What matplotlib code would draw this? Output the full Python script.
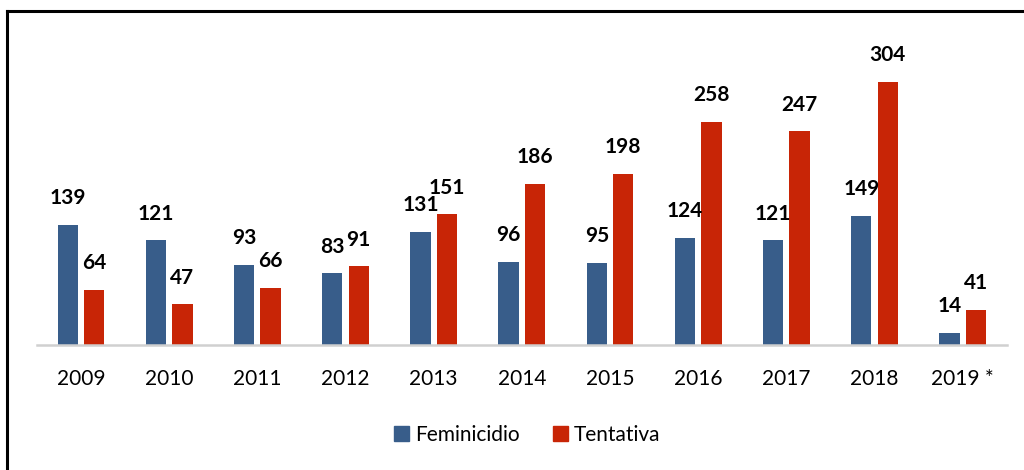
import numpy as np
import matplotlib
matplotlib.use("Agg")
import matplotlib.pyplot as plt
from matplotlib.lines import Line2D
from matplotlib.patches import Patch

years = ["2009", "2010", "2011", "2012", "2013", "2014", "2015", "2016", "2017", "2018", "2019 *"]
feminicidio = [139, 121, 93, 83, 131, 96, 95, 124, 121, 149, 14]
tentativa = [64, 47, 66, 91, 151, 186, 198, 258, 247, 304, 41]

blue = "#385D8A"
red = "#C82506"

plt.rcParams['font.family'] = ['Lato', 'DejaVu Sans']

fig = plt.figure(figsize=(10.24, 4.70), dpi=100)
ax = fig.add_axes([0.0361, 0.266, 0.947, 0.670])

x = np.arange(len(years))
w = 0.23
off = 0.15
b1 = ax.bar(x - off, feminicidio, w, color=blue, label="Feminicidio")
b2 = ax.bar(x + off, tentativa, w, color=red, label="Tentativa")

for bars, vals in ((b1, feminicidio), (b2, tentativa)):
    for rect, v in zip(bars, vals):
        ax.annotate(str(v), (rect.get_x() + rect.get_width() / 2, rect.get_height()),
                    xytext=(0, 12), textcoords="offset points", ha="center", va="bottom",
                    fontsize=15, fontweight="bold", color="black")

ax.set_xlim(-0.5, len(years) - 0.5)
ax.set_ylim(0, 364)
ax.set_xticks(x)
ax.set_xticklabels(years, fontsize=15)
ax.tick_params(axis="x", length=0, pad=17)
ax.set_yticks([])
for s in ["top", "right", "left"]:
    ax.spines[s].set_visible(False)
ax.spines["bottom"].set_color("#D0D0D0")
ax.spines["bottom"].set_linewidth(1.8)

handles = [Patch(color=blue, label="Feminicidio"), Patch(color=red, label="Tentativa")]
fig.legend(handles=handles, loc="center", bbox_to_anchor=(0.515, 0.075), ncol=2, frameon=False,
           fontsize=15, handlelength=0.7, handleheight=0.7, handletextpad=0.3, columnspacing=1.6)

# outer frame (left and top edges only, as in the reference)
fig.add_artist(Line2D([0.0068, 0.0068], [0, 0.977], transform=fig.transFigure, color="black", lw=2.2))
fig.add_artist(Line2D([0.0068, 1.0], [0.977, 0.977], transform=fig.transFigure, color="black", lw=2.2))

fig.savefig("out.png", dpi=100, facecolor="white")
